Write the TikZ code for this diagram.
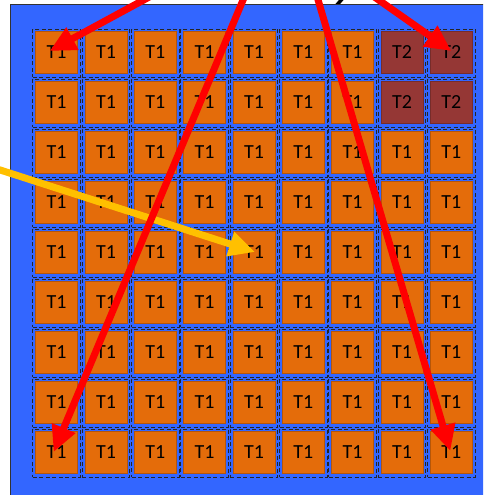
\documentclass[tikz,border=0pt]{standalone}
\usepackage{fontspec}
\setmainfont{Carlito}
\usetikzlibrary{arrows.meta}
\definecolor{bgblue}{HTML}{3366FF}
\definecolor{tone}{HTML}{E46C0A}
\definecolor{ttwo}{HTML}{953735}
\definecolor{amber}{HTML}{FFC000}
\definecolor{redarrow}{HTML}{FF0000}
\tikzset{
  cellframe/.style={draw=black!85, dashed, dash pattern=on 4pt off 2.5pt, line width=0.9pt,
    minimum width=47.5pt, minimum height=48pt, inner sep=0pt},
  cellbox/.style={draw=tone!80!black, line width=0.4pt, minimum width=42pt, minimum height=42pt,
    inner sep=0pt, font=\fontsize{20}{22}\selectfont, text=black},
  orangebox/.style={cellbox, fill=tone},
  redbox/.style={cellbox, fill=ttwo, draw=ttwo!80!black},
  redline/.style={draw=redarrow, line width=7pt, -{Triangle[length=26pt,width=24pt]}},
  amberline/.style={draw=amber, line width=7pt, -{Triangle[length=26pt,width=24pt]}},
}
\begin{document}
\begin{tikzpicture}[x=1pt,y=-1pt]
\clip (0,0) rectangle (483,495);
\fill[white] (0,0) rectangle (483,495);
% fragment of a glyph above the frame
\draw[black, line width=3.5pt] (343,-2) -- (336,6);
% blue background
\fill[bgblue, draw=black!80, line width=1pt] (10,5) rectangle (500,510);
% cells
\foreach \i in {0,...,8}{
  \foreach \j in {0,...,8}{
    \pgfmathsetmacro{\cx}{32+49.33*(\i+0.5)}
    \pgfmathsetmacro{\cy}{28+50*(\j+0.5)}
    \node[cellframe] (f-\i-\j) at (\cx,\cy) {};
  }
}
\foreach \i in {0,...,8}{
  \foreach \j in {0,...,8}{
    \pgfmathsetmacro{\cx}{32+49.33*(\i+0.5)}
    \pgfmathsetmacro{\cy}{28+50*(\j+0.5)-1}
    \pgfmathtruncatemacro{\istwo}{(\i>6)&&(\j<2)}
    \ifnum\istwo=1
      \node[redbox] (c-\i-\j) at (\cx,\cy) {T2};
    \else
      \node[orangebox] (c-\i-\j) at (\cx,\cy) {T1};
    \fi
  }
}
% arrow sources (outside the picture)
\coordinate (srcY) at (-20,163.5);
\coordinate (srcA) at (199,-30);
\coordinate (srcB) at (255.6,-30);
\coordinate (srcC) at (309.3,-30);
\coordinate (srcD) at (336,-30);
% amber arrow
\draw[amberline] (srcY) -- ([xshift=1pt]c-4-4.center);
% red arrows
\draw[redline] (srcA) -- ([xshift=-7pt,yshift=1pt]c-0-0.center);
\draw[redline] (srcB) -- ([xshift=-3pt]c-0-8.center);
\draw[redline] (srcC) -- ([xshift=-1pt,yshift=1pt]c-8-8.center);
\draw[redline] (srcD) -- ([yshift=1pt]c-8-0.center);
\end{tikzpicture}
\end{document}
